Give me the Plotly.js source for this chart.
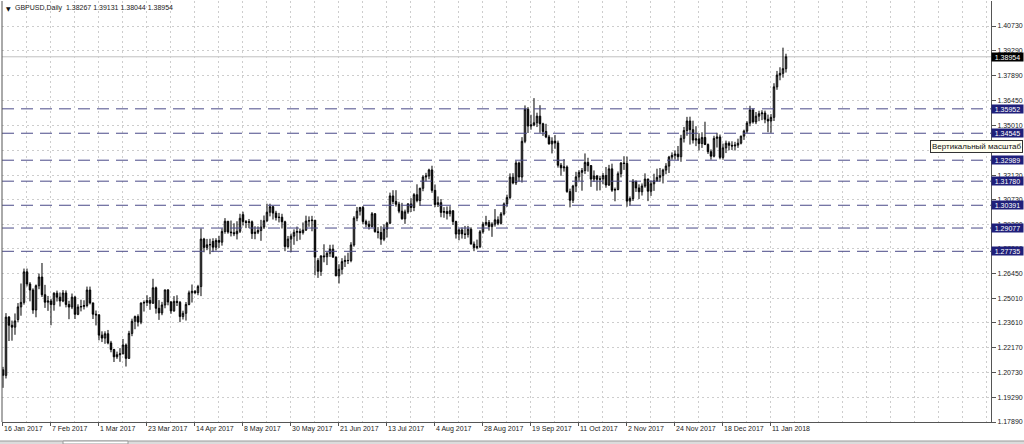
<!DOCTYPE html>
<html>
<head>
<meta charset="utf-8">
<script src="https://cdn.plot.ly/plotly-3.0.1.min.js"></script>
<style>
html,body{margin:0;padding:0;background:#fff;}
#chart{width:1024px;height:444px;}
</style>
</head>
<body>
<div id="chart"></div>
<script>
// ---- data (GBPUSD, Daily) ----
const symbolTitle = "GBPUSD,Daily";
const headerOHLC = ["1.38267", "1.39131", "1.38044", "1.38954"];

// trading days: weekdays from 16 Jan 2017 to 18 Jan 2018, without 25 Dec and 1 Jan
const firstDay = "2017-01-16";
const lastDay = "2018-01-18";
const closedDays = ["2017-12-25", "2018-01-01"];

const open = [
1.2090,1.2058,1.2394,1.2347,1.2336,
1.2380,1.2453,1.2479,1.2655,1.2585,
1.2550,1.2435,1.2575,1.2625,1.2523,
1.2480,1.2487,1.2466,1.2532,1.2509,
1.2487,1.2533,1.2467,1.2452,1.2509,
1.2410,1.2452,1.2455,1.2461,1.2550,
1.2476,1.2411,1.2407,1.2290,1.2273,
1.2298,1.2245,1.2207,1.2165,1.2177,
1.2182,1.2233,1.2156,1.2300,1.2370,
1.2397,1.2365,1.2475,1.2478,1.2490,
1.2474,1.2563,1.2445,1.2418,1.2464,
1.2551,1.2481,1.2430,1.2485,1.2479,
1.2397,1.2416,1.2467,1.2534,1.2543,
1.2535,1.2570,1.2844,1.2796,1.2811,
1.2830,1.2797,1.2836,1.2826,1.2888,
1.2947,1.2885,1.2881,1.2875,1.2889,
1.2985,1.2945,1.2940,1.2944,1.2876,
1.2884,1.2893,1.2913,1.2950,1.2999,
1.3031,1.2994,1.2968,1.2970,1.2944,
1.2801,1.2844,1.2861,1.2883,1.2888,
1.2881,1.2896,1.2948,1.2950,1.2953,
1.2720,1.2658,1.2747,1.2742,1.2762,
1.2786,1.2740,1.2632,1.2670,1.2714,
1.2721,1.2720,1.2810,1.2965,1.3005,
1.3026,1.2945,1.2930,1.2917,1.2990,
1.2887,1.2882,1.2843,1.2902,1.2936,
1.3093,1.3061,1.3045,1.3005,1.2961,
1.3001,1.3047,1.3026,1.3100,1.3066,
1.3137,1.3202,1.3208,1.3243,1.3125,
1.3043,1.3054,1.2998,1.3003,1.2991,
1.3007,1.2945,1.2873,1.2897,1.2874,
1.2871,1.2901,1.2815,1.2795,1.2800,
1.2886,1.2930,1.2940,1.2916,1.2930,
1.2955,1.2935,1.2989,1.3047,1.3084,
1.3201,1.3168,1.3283,1.3202,1.3408,
1.3593,1.3496,1.3502,1.3515,1.3553,
1.3509,1.3465,1.3433,1.3393,1.3409,
1.3398,1.3270,1.3255,1.3260,1.3118,
1.3068,1.3150,1.3203,1.3229,1.3239,
1.3286,1.3268,1.3190,1.3208,1.3189,
1.3191,1.3211,1.3156,1.3249,1.3126,
1.3130,1.3221,1.3283,1.3280,1.3063,
1.3078,1.3178,1.3139,1.3117,1.3150,
1.3190,1.3120,1.3163,1.3180,1.3200,
1.3210,1.3242,1.3265,1.3317,1.3327,
1.3334,1.3319,1.3425,1.3470,1.3525,
1.3475,1.3415,1.3422,1.3395,1.3430,
1.3390,1.3348,1.3322,1.3425,1.3433,
1.3315,1.3370,1.3397,1.3385,1.3381,
1.3386,1.3397,1.3438,1.3467,
1.3513,1.3589,1.3520,1.3553,
1.3567,1.3571,1.3535,1.3525,
1.3546,1.3722,1.3790,1.3800,1.38267
];

const high = [
1.2107,1.2417,1.2400,1.2374,1.2415,
1.2475,1.2588,1.2674,1.2674,1.2596,
1.2560,1.2582,1.2645,1.2706,1.2580,
1.2516,1.2500,1.2537,1.2547,1.2536,
1.2550,1.2548,1.2488,1.2530,1.2517,
1.2468,1.2494,1.2491,1.2570,1.2570,
1.2477,1.2432,1.2410,1.2312,1.2312,
1.2320,1.2257,1.2211,1.2195,1.2215,
1.2268,1.2242,1.2315,1.2385,1.2403,
1.2410,1.2479,1.2490,1.2520,1.2510,
1.2615,1.2570,1.2492,1.2482,1.2552,
1.2555,1.2487,1.2515,1.2520,1.2487,
1.2431,1.2481,1.2547,1.2582,1.2550,
1.2580,1.2905,1.2851,1.2845,1.2846,
1.2849,1.2849,1.2863,1.2906,1.2965,
1.2947,1.2951,1.2935,1.2947,1.2990,
1.3002,1.2954,1.2960,1.2951,1.2918,
1.2917,1.2955,1.2980,1.3048,1.3048,
1.3035,1.3007,1.2995,1.2990,1.2950,
1.2862,1.2876,1.2900,1.2916,1.2905,
1.2940,1.2979,1.2975,1.2978,1.2953,
1.2734,1.2750,1.2814,1.2769,1.2811,
1.2812,1.2744,1.2699,1.2734,1.2749,
1.2765,1.2826,1.2976,1.3029,1.3030,
1.3035,1.2956,1.2950,1.3000,1.2994,
1.2913,1.2918,1.2929,1.2943,1.3112,
1.3126,1.3126,1.3059,1.3053,1.3014,
1.3051,1.3080,1.3109,1.3160,1.3140,
1.3212,1.3226,1.3250,1.3267,1.3159,
1.3090,1.3075,1.3028,1.3032,1.3034,
1.3010,1.2950,1.2905,1.2911,1.2920,
1.2920,1.2912,1.2830,1.2841,1.2896,
1.2942,1.2978,1.2954,1.2941,1.3017,
1.2975,1.3000,1.3055,1.3100,1.3223,
1.3224,1.3296,1.3291,1.3432,1.3615,
1.3605,1.3561,1.3657,1.3573,1.3616,
1.3515,1.3509,1.3445,1.3431,1.3444,
1.3412,1.3283,1.3305,1.3269,1.3135,
1.3157,1.3232,1.3242,1.3254,1.3338,
1.3313,1.3269,1.3240,1.3214,1.3209,
1.3225,1.3260,1.3272,1.3279,1.3141,
1.3234,1.3288,1.3322,1.3320,1.3090,
1.3190,1.3180,1.3160,1.3165,1.3223,
1.3193,1.3182,1.3221,1.3250,1.3254,
1.3250,1.3282,1.3324,1.3344,1.3356,
1.3381,1.3445,1.3491,1.3549,1.3550,
1.3527,1.3495,1.3455,1.3460,1.3521,
1.3395,1.3361,1.3440,1.3457,1.3447,
1.3395,1.3412,1.3408,1.3408,1.3405,
1.3423,1.3440,1.3475,1.3524,
1.3613,1.3598,1.3577,1.3584,
1.3587,1.3585,1.3562,1.3565,
1.3743,1.3814,1.3835,1.3948,1.39131
];

const low = [
1.1986,1.2040,1.2256,1.2258,1.2292,
1.2366,1.2402,1.2466,1.2571,1.2485,
1.2413,1.2393,1.2555,1.2510,1.2447,
1.2430,1.2347,1.2431,1.2484,1.2455,
1.2480,1.2450,1.2382,1.2440,1.2383,
1.2405,1.2427,1.2438,1.2450,1.2467,
1.2383,1.2346,1.2260,1.2250,1.2240,
1.2237,1.2191,1.2135,1.2153,1.2136,
1.2180,1.2109,1.2153,1.2284,1.2324,
1.2340,1.2353,1.2426,1.2458,1.2436,
1.2470,1.2414,1.2378,1.2405,1.2445,
1.2462,1.2413,1.2425,1.2458,1.2365,
1.2380,1.2374,1.2462,1.2478,1.2526,
1.2520,1.2515,1.2768,1.2780,1.2757,
1.2769,1.2778,1.2793,1.2806,1.2875,
1.2875,1.2859,1.2861,1.2842,1.2879,
1.2922,1.2907,1.2907,1.2845,1.2843,
1.2873,1.2834,1.2902,1.2943,1.2975,
1.2957,1.2951,1.2940,1.2905,1.2774,
1.2790,1.2768,1.2811,1.2832,1.2840,
1.2870,1.2891,1.2915,1.2889,1.2635,
1.2620,1.2632,1.2710,1.2694,1.2741,
1.2735,1.2630,1.2588,1.2640,1.2683,
1.2700,1.2710,1.2800,1.2947,1.2980,
1.2931,1.2912,1.2899,1.2910,1.2881,
1.2848,1.2811,1.2832,1.2853,1.2930,
1.3046,1.3031,1.2993,1.2956,1.2932,
1.2990,1.3000,1.3005,1.3056,1.3035,
1.3120,1.3177,1.3189,1.3111,1.3028,
1.3029,1.2970,1.2967,1.2957,1.2974,
1.2926,1.2847,1.2837,1.2847,1.2845,
1.2853,1.2814,1.2774,1.2785,1.2792,
1.2875,1.2920,1.2893,1.2857,1.2916,
1.2924,1.2928,1.2980,1.3030,1.3073,
1.3160,1.3156,1.3175,1.3170,1.3397,
1.3456,1.3475,1.3495,1.3490,1.3457,
1.3439,1.3426,1.3389,1.3338,1.3365,
1.3256,1.3209,1.3233,1.3111,1.3027,
1.3052,1.3115,1.3180,1.3123,1.3220,
1.3233,1.3145,1.3174,1.3123,1.3125,
1.3160,1.3140,1.3150,1.3116,1.3062,
1.3125,1.3200,1.3243,1.3031,1.3038,
1.3064,1.3116,1.3075,1.3095,1.3140,
1.3063,1.3093,1.3122,1.3175,1.3175,
1.3165,1.3218,1.3225,1.3302,1.3302,
1.3298,1.3290,1.3401,1.3440,1.3389,
1.3395,1.3380,1.3355,1.3370,1.3386,
1.3335,1.3302,1.3315,1.3372,1.3304,
1.3302,1.3340,1.3356,1.3358,1.3355,
1.3370,1.3390,1.3416,1.3455,
1.3495,1.3510,1.3507,1.3524,
1.3530,1.3512,1.3460,1.3457,
1.3525,1.3705,1.3760,1.3775,1.38044
];

const close = [
1.2058,1.2394,1.2347,1.2336,1.2372,
1.2453,1.2479,1.2655,1.2585,1.2550,
1.2435,1.2575,1.2625,1.2523,1.2480,
1.2487,1.2466,1.2532,1.2509,1.2487,
1.2533,1.2467,1.2452,1.2509,1.2410,
1.2452,1.2455,1.2461,1.2550,1.2476,
1.2411,1.2407,1.2290,1.2273,1.2298,
1.2245,1.2207,1.2165,1.2177,1.2182,
1.2233,1.2156,1.2300,1.2370,1.2397,
1.2365,1.2475,1.2478,1.2490,1.2474,
1.2563,1.2445,1.2418,1.2464,1.2551,
1.2481,1.2430,1.2485,1.2479,1.2397,
1.2416,1.2467,1.2534,1.2543,1.2535,
1.2570,1.2844,1.2796,1.2811,1.2812,
1.2797,1.2836,1.2826,1.2888,1.2947,
1.2885,1.2881,1.2875,1.2889,1.2964,
1.2945,1.2940,1.2944,1.2876,1.2884,
1.2893,1.2913,1.2950,1.2999,1.3031,
1.2994,1.2968,1.2970,1.2944,1.2801,
1.2844,1.2861,1.2883,1.2888,1.2881,
1.2896,1.2948,1.2950,1.2953,1.2740,
1.2658,1.2747,1.2742,1.2762,1.2786,
1.2740,1.2632,1.2670,1.2714,1.2721,
1.2720,1.2810,1.2965,1.3005,1.3026,
1.2945,1.2930,1.2917,1.2990,1.2887,
1.2882,1.2843,1.2902,1.2936,1.3093,
1.3061,1.3045,1.3005,1.2961,1.3001,
1.3047,1.3026,1.3100,1.3066,1.3137,
1.3202,1.3208,1.3243,1.3125,1.3043,
1.3054,1.2998,1.3003,1.2991,1.3007,
1.2945,1.2873,1.2897,1.2874,1.2871,
1.2901,1.2815,1.2795,1.2800,1.2886,
1.2930,1.2940,1.2916,1.2930,1.2955,
1.2935,1.2989,1.3047,1.3084,1.3201,
1.3168,1.3283,1.3202,1.3408,1.3593,
1.3496,1.3502,1.3515,1.3553,1.3509,
1.3465,1.3433,1.3393,1.3409,1.3398,
1.3270,1.3255,1.3260,1.3118,1.3068,
1.3150,1.3203,1.3229,1.3239,1.3286,
1.3268,1.3190,1.3208,1.3189,1.3191,
1.3211,1.3156,1.3249,1.3126,1.3130,
1.3221,1.3283,1.3280,1.3063,1.3078,
1.3178,1.3139,1.3117,1.3150,1.3190,
1.3120,1.3163,1.3180,1.3200,1.3210,
1.3242,1.3265,1.3317,1.3327,1.3334,
1.3319,1.3425,1.3470,1.3525,1.3475,
1.3415,1.3422,1.3395,1.3430,1.3390,
1.3348,1.3322,1.3425,1.3433,1.3315,
1.3370,1.3397,1.3385,1.3381,1.3386,
1.3397,1.3438,1.3467,1.3513,
1.3589,1.3520,1.3553,1.3567,
1.3571,1.3535,1.3525,1.3546,
1.3722,1.3790,1.3800,1.3827,1.38954
];

// horizontal level lines drawn on the chart
const levels = [1.35952, 1.34545, 1.32989, 1.31780, 1.30391, 1.29077, 1.27735];
const bidPrice = 1.38954;

// price-scale tick labels
const yTicks = [1.17890, 1.19290, 1.20730, 1.22170, 1.23610, 1.25010, 1.26450, 1.27890,
                1.29300, 1.30730, 1.32120, 1.33570, 1.35010, 1.36450, 1.37890, 1.39290, 1.40730];

// time-scale tick labels
const tickDates = ["2017-01-16","2017-02-07","2017-03-01","2017-03-23","2017-04-14","2017-05-08",
  "2017-05-30","2017-06-21","2017-07-13","2017-08-04","2017-08-28","2017-09-19","2017-10-11",
  "2017-11-02","2017-11-24","2017-12-18","2018-01-11"];
const tickLabels = ["16 Jan 2017","7 Feb 2017","1 Mar 2017","23 Mar 2017","14 Apr 2017","8 May 2017",
  "30 May 2017","21 Jun 2017","13 Jul 2017","4 Aug 2017","28 Aug 2017","19 Sep 2017","11 Oct 2017",
  "2 Nov 2017","24 Nov 2017","18 Dec 2017","11 Jan 2018"];

const tooltipText = "Вертикальный масштаб";

// ---- build the calendar of bars ----
function iso(d){ return d.toISOString().slice(0,10); }
const dates = [];
for (let d = new Date(firstDay + "T00:00:00Z"); iso(d) <= lastDay; d.setUTCDate(d.getUTCDate()+1)) {
  const wd = d.getUTCDay();
  if (wd === 0 || wd === 6) continue;
  if (closedDays.includes(iso(d))) continue;
  dates.push(iso(d));
}
const barIndex = dates.map((d, i) => i);
const tickIdx = tickDates.map(d => dates.indexOf(d));

// ---- plot ----
const W = 1024, H = 444;
const M = {l: 2, r: 33, t: 1, b: 22};
const PW = W - M.l - M.r, PH = H - M.t - M.b;
const px = x => (x - M.l) / PW;      // page pixel -> paper x
const py = y => (H - M.b - y) / PH;  // page pixel -> paper y

const FONT = "Liberation Sans, Arial, sans-serif";
const GRID = '#cdcdcd';

const trace = {
  type: 'candlestick',
  x: barIndex, open: open, high: high, low: low, close: close,
  increasing: {line: {color: '#000000', width: 1}, fillcolor: '#a0a0a0'},
  decreasing: {line: {color: '#000000', width: 1}, fillcolor: '#000000'},
  whiskerwidth: 0,
  hoverinfo: 'skip',
  showlegend: false
};

const shapes = [];
// bid line
shapes.push({type: 'line', xref: 'paper', x0: 0, x1: 1, yref: 'y', y0: bidPrice, y1: bidPrice,
  layer: 'below', line: {color: '#c0c0c0', width: 1}});
levels.forEach(v => shapes.push({type: 'line', xref: 'paper', x0: 0, x1: 1, yref: 'y', y0: v, y1: v,
  layer: 'above', line: {color: '#4a4a88', width: 1, dash: '12px,7px'}}));
// left border
shapes.push({type: 'line', xref: 'paper', yref: 'paper', x0: 0, x1: 0, y0: 0, y1: 1,
  line: {color: '#555555', width: 1}});
// bottom tab strip
shapes.push({type: 'rect', xref: 'paper', yref: 'paper', x0: px(0), x1: px(1024), y0: py(444), y1: py(441),
  fillcolor: '#dcdcdc', line: {width: 0}});
shapes.push({type: 'line', xref: 'paper', yref: 'paper', x0: px(0), x1: px(1024), y0: py(441), y1: py(441),
  line: {color: '#9a9a9a', width: 1}});
shapes.push({type: 'rect', xref: 'paper', yref: 'paper', x0: px(63), x1: px(128), y0: py(444), y1: py(441),
  fillcolor: '#ffffff', line: {color: '#9a9a9a', width: 1}});

const annotations = [];
annotations.push({xref: 'paper', yref: 'paper', x: px(4), y: py(8), xanchor: 'left', yanchor: 'middle',
  text: '▼', showarrow: false, font: {family: 'DejaVu Sans', size: 6, color: '#111'}});
annotations.push({xref: 'paper', yref: 'paper', x: px(13), y: py(8), xanchor: 'left', yanchor: 'middle',
  text: symbolTitle + '  ' + headerOHLC.join(' '), showarrow: false,
  font: {family: FONT, size: 7, color: '#222'}});
levels.forEach(v => annotations.push({xref: 'paper', yref: 'y', x: 1, y: v, xanchor: 'left', yanchor: 'middle',
  text: v.toFixed(5), showarrow: false, bgcolor: '#1f1f7a', width: 31, height: 8, borderpad: 0,
  font: {family: FONT, size: 7, color: '#ffffff'}}));
annotations.push({xref: 'paper', yref: 'y', x: 1, y: bidPrice, xanchor: 'left', yanchor: 'middle',
  text: bidPrice.toFixed(5), showarrow: false, bgcolor: '#000000', width: 31, height: 8, borderpad: 0,
  font: {family: FONT, size: 7, color: '#ffffff'}});
annotations.push({xref: 'paper', yref: 'paper', x: px(930), y: py(146), xanchor: 'left', yanchor: 'middle',
  text: tooltipText, showarrow: false, bgcolor: '#fffff0', bordercolor: '#333333', borderwidth: 1, borderpad: 1,
  font: {family: FONT, size: 8, color: '#111'}});

const layout = {
  width: W, height: H,
  margin: {l: M.l, r: M.r, t: M.t, b: M.b, pad: 0},
  paper_bgcolor: '#ffffff', plot_bgcolor: '#ffffff',
  showlegend: false,
  font: {family: FONT, size: 7, color: '#222'},
  xaxis: {
    type: 'linear', range: [-0.33, -0.33 + PW / 3], fixedrange: true,
    rangeslider: {visible: false},
    tickmode: 'array', tickvals: tickIdx, ticktext: tickLabels,
    tickangle: 0,
    ticks: 'outside', ticklen: 3, tickcolor: '#555', tickwidth: 1,
    ticklabelposition: 'outside right',
    tickfont: {family: FONT, size: 7, color: '#222'},
    showgrid: true, gridcolor: GRID, griddash: '2px,3px', gridwidth: 1,
    minor: {tickmode: 'linear', tick0: 0, dtick: 8, showgrid: true, gridcolor: GRID, griddash: '2px,3px', ticks: ''},
    showline: true, linecolor: '#555', linewidth: 1,
    zeroline: false
  },
  yaxis: {
    side: 'right', range: [1.1789, 1.1789 + PH / 1733.8], fixedrange: true,
    tickmode: 'array', tickvals: yTicks, ticktext: yTicks.map(v => v.toFixed(5)),
    ticks: 'outside', ticklen: 4, tickcolor: '#555',
    tickfont: {family: FONT, size: 7, color: '#222'},
    showgrid: true, gridcolor: GRID, griddash: '2px,3px', gridwidth: 1,
    showline: true, linecolor: '#555', linewidth: 1,
    zeroline: false
  },
  shapes: shapes,
  annotations: annotations
};

Plotly.newPlot('chart', [trace], layout, {staticPlot: true, displayModeBar: false});
</script>
</body>
</html>
